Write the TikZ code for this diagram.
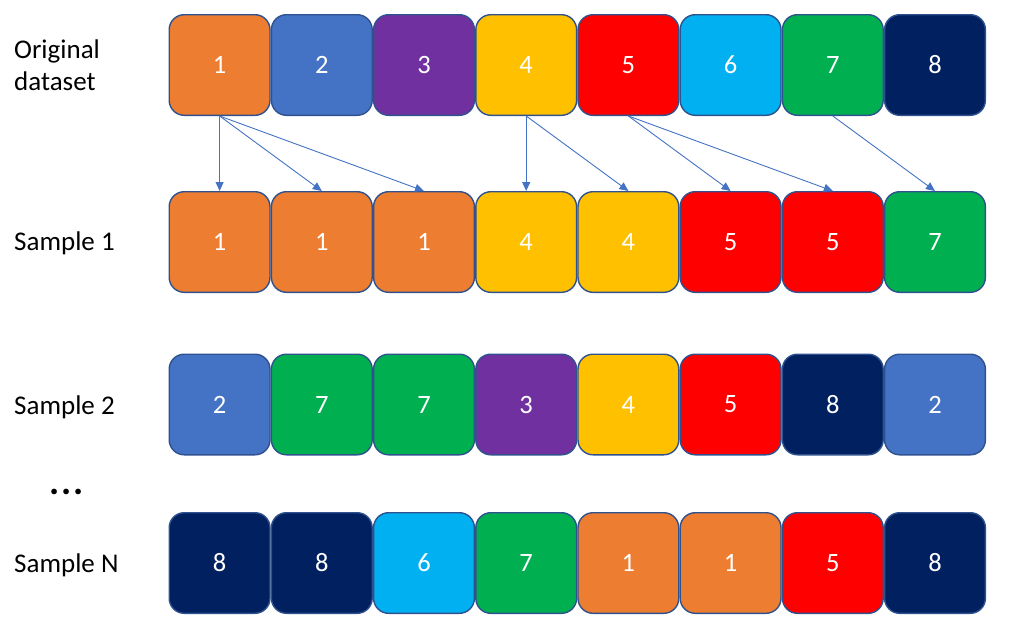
\documentclass[tikz,border=0pt]{standalone}
\usepackage{fontspec}
\setmainfont{Carlito}
\usetikzlibrary{arrows.meta}
\definecolor{cOr}{HTML}{ED7D31}
\definecolor{cBl}{HTML}{4472C4}
\definecolor{cPu}{HTML}{7030A0}
\definecolor{cYe}{HTML}{FFC000}
\definecolor{cRe}{HTML}{FF0000}
\definecolor{cLb}{HTML}{00B0F0}
\definecolor{cGr}{HTML}{00B050}
\definecolor{cNv}{HTML}{002060}
\definecolor{cBorder}{HTML}{2F528F}
\definecolor{cArrow}{HTML}{4472C4}
\tikzset{
  cell/.style={draw=cBorder, line width=1.4pt, rounded corners=15pt,
    minimum width=100.8pt, minimum height=100.6pt, inner sep=0pt,
    text=white, font=\fontsize{26.5}{32}\selectfont},
  rowlabel/.style={anchor=west, align=left, inner sep=0pt, text=black,
    font=\fontsize{27}{32}\selectfont},
  pick/.style={draw=cArrow, line width=0.9pt, -{Triangle[length=9pt,width=8pt]}}
}
\newcommand{\celltext}[1]{\raisebox{-1.6pt}{#1}}
\begin{document}
\begin{tikzpicture}[x=1pt,y=-1pt]
\useasboundingbox (0,0) rectangle (1019,640);
% row 0
\foreach \i/\c/\t in {1/cOr/1,2/cBl/2,3/cPu/3,4/cYe/4,5/cRe/5,6/cLb/6,7/cGr/7,8/cNv/8}
  \node[cell, fill=\c] (r0-\i) at ({117.4+102.2*\i},65) {\celltext{\t}};
% row 1
\foreach \i/\c/\t in {1/cOr/1,2/cOr/1,3/cOr/1,4/cYe/4,5/cYe/4,6/cRe/5,7/cRe/5,8/cGr/7}
  \node[cell, fill=\c] (r1-\i) at ({117.4+102.2*\i},242) {\celltext{\t}};
% row 2
\foreach \i/\c/\t in {1/cBl/2,2/cGr/7,3/cGr/7,4/cPu/3,5/cYe/4,6/cRe/5,7/cNv/8,8/cBl/2}
  \node[cell, fill=\c] (r2-\i) at ({117.4+102.2*\i},404.5) {\celltext{\t}};
% row N
\foreach \i/\c/\t in {1/cNv/8,2/cNv/8,3/cLb/6,4/cGr/7,5/cOr/1,6/cOr/1,7/cRe/5,8/cNv/8}
  \node[cell, fill=\c] (r3-\i) at ({117.4+102.2*\i},563) {\celltext{\t}};
% labels
\node[rowlabel] (lab0) at (14,65) {Original\\dataset};
\node[rowlabel] (lab1) at (14,243) {Sample 1};
\node[rowlabel] (lab2) at (14,407) {Sample 2};
\node[inner sep=0pt, font=\bfseries\fontsize{38}{40}\selectfont] (dots) at (66.5,491.5) {.\hspace{1.5pt}.\hspace{1.5pt}.};
\node[rowlabel] (lab3) at (14,565) {Sample N};
% arrows
\foreach \s/\t in {1/1,1/2,1/3,4/4,4/5,5/6,5/7,7/8}
  \draw[pick] (r0-\s.south) -- (r1-\t.north);
\end{tikzpicture}
\end{document}
